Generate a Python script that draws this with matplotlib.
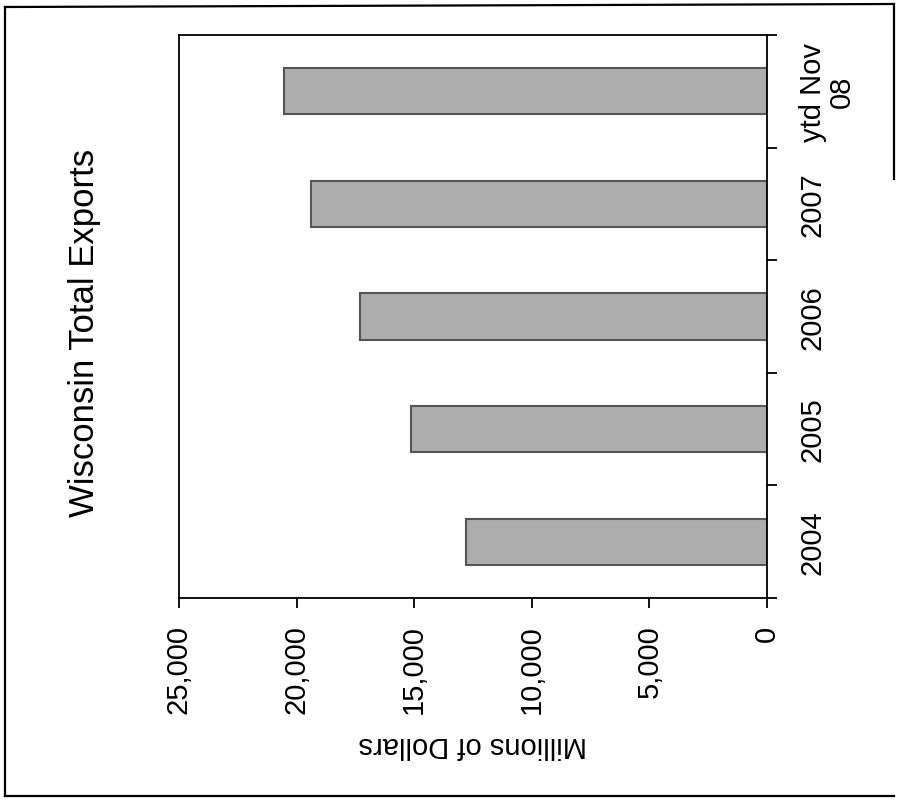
import matplotlib
matplotlib.use("Agg")
import matplotlib.pyplot as plt
from matplotlib.lines import Line2D
from matplotlib.ticker import FixedLocator, FuncFormatter, NullFormatter
import numpy as np

categories = ["2004", "2005", "2006", "2007", "ytd Nov\n08"]
exports = [12780, 15150, 17290, 19380, 20550]
value_ticks = [0, 5000, 10000, 15000, 20000, 25000]
title = "Wisconsin Total Exports"
value_label = "Millions of Dollars"

plt.rcParams['font.family'] = ['Liberation Sans', 'DejaVu Sans']

W, H = 898, 803
fig = plt.figure(figsize=(W / 100, H / 100), dpi=100)
fig.patch.set_facecolor('white')

ax_l, ax_r, ax_t, ax_b = 179, 767, 36, 599
ax = fig.add_axes([ax_l / W, 1 - ax_b / H, (ax_r - ax_l) / W, (ax_b - ax_t) / H])

pos = np.arange(len(categories))
ax.barh(pos, exports, height=0.41, color='#adadad', edgecolor='#555555', linewidth=1.5, zorder=2)

ax.set_xlim(25000, 0)
ax.set_ylim(-0.5, len(categories) - 0.5)

ax.xaxis.set_major_locator(FixedLocator(value_ticks))
ax.xaxis.set_major_formatter(FuncFormatter(lambda v, p: f"{int(v):,}"))
ax.tick_params(axis='x', direction='out', length=7, width=1.3, pad=12,
               labelsize=21, labelrotation=90, color='black')

ax.yaxis.tick_right()
ax.yaxis.set_major_locator(FixedLocator(np.arange(-0.5, len(categories), 1.0)))
ax.yaxis.set_major_formatter(NullFormatter())
ax.yaxis.set_minor_locator(FixedLocator(pos))
ax.yaxis.set_minor_formatter(FuncFormatter(lambda v, p: categories[int(round(v))]))
ax.tick_params(axis='y', which='major', direction='out', length=7, width=1.3, right=True, left=False)
ax.tick_params(axis='y', which='minor', length=0, pad=23, labelsize=21, labelright=True,
               labelleft=False, labelrotation=90)
for lab in ax.yaxis.get_minorticklabels():
    lab.set_va('center')
    lab.set_ha('left')
    lab.set_multialignment('center')
    lab.set_linespacing(1.05)

for s in ax.spines.values():
    s.set_linewidth(1.3)
    s.set_color('black')

fig.text(473 / W, 1 - 745 / H, value_label, rotation=180, ha='center', va='center', fontsize=21)
fig.text(85 / W, 1 - 333 / H, title, rotation=90, ha='center', va='center', fontsize=25)

# outer page frame
def fl(x0, y0, x1, y1):
    fig.add_artist(Line2D([x0 / W, x1 / W], [1 - y0 / H, 1 - y1 / H], color='black', linewidth=1.6))
fl(5, 8, 894, 5)
fl(5, 8, 5, 797)
fl(5, 797, 894, 797)
fl(894, 5, 894, 180)

fig.savefig("out.png", dpi=100)
